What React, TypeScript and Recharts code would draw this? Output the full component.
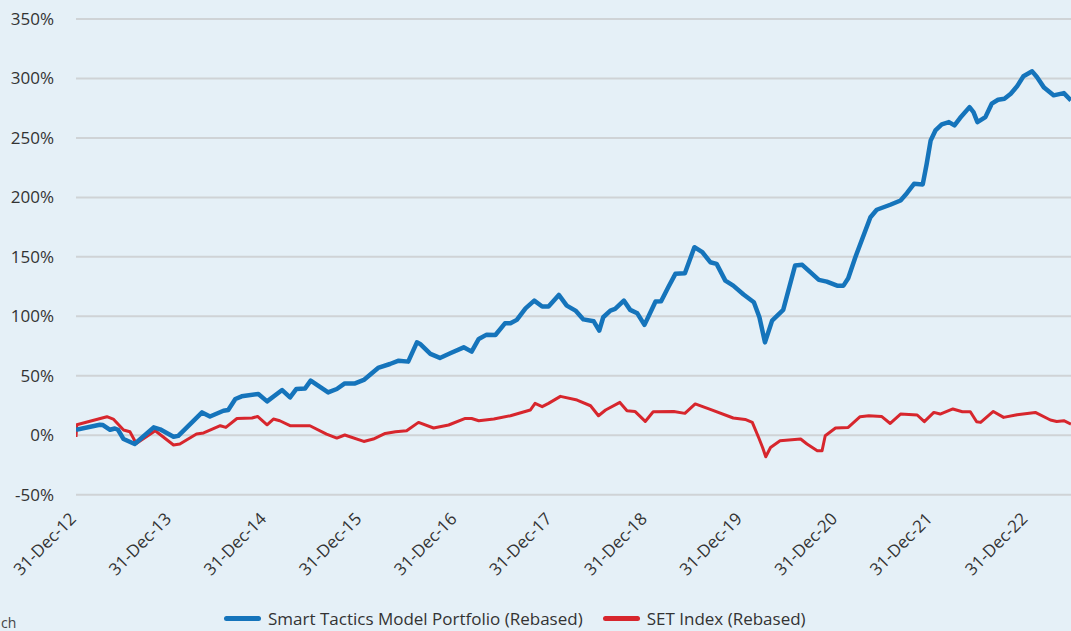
import React from 'react';
import { LineChart, Line, XAxis, YAxis, CartesianGrid } from 'recharts';

// months since 31-Dec-12 and rebased returns (%)
const portfolioMonths = [
  0, 3.0, 3.4, 4.3, 4.9, 5.3, 6.0, 7.4, 9.8, 10.6, 12.3, 12.9, 15.9, 16.9, 18.6, 19.2, 20.1, 20.9, 23.0, 24.1,
  26.0, 27.0, 27.8, 28.9, 29.6, 31.8, 32.9, 33.9, 35.2, 36.3, 38.1, 39.6, 40.7, 41.9, 43.0, 43.4, 44.7, 45.9, 47.2, 48.9,
  49.9, 50.8, 51.8, 52.9, 54.1, 54.8, 55.6, 56.7, 57.8, 58.8, 59.6, 60.9, 61.9, 63.0, 64.0, 65.3, 66.0, 66.5, 67.4, 68.0,
  69.1, 69.9, 70.8, 71.7, 72.4, 73.1, 73.8, 74.7, 75.6, 76.8, 78.0, 79.0, 80.0, 80.8, 81.9, 82.9, 84.2, 85.5, 86.2, 86.9,
  87.8, 89.2, 90.7, 91.6, 93.7, 94.7, 96.0, 96.8, 97.4, 98.3, 100.2, 101.0, 102.7, 104.0, 104.8, 105.7, 106.8, 107.3, 107.8, 108.4,
  109.2, 110.1, 110.8, 111.5, 112.7, 113.2, 113.7, 114.7, 115.5, 116.3, 117.1, 117.9, 118.7, 119.5, 120.6, 121.2, 122.1, 123.3, 124.6, 125.5,
];
const portfolioValues = [
  4.6, 8.8, 8.6, 4.6, 5.7, 4.6, -3.2, -7.4, 6.6, 5, -1.3, -0.5, 19.2, 15.8, 20.6, 21.2, 30.5, 32.7, 34.7, 28.5,
  38, 31.8, 38.9, 39.4, 45.9, 36, 38.9, 43.6, 43.6, 46.5, 56.6, 59.9, 62.7, 61.9, 78.1, 76.8, 68.4, 65, 68.9, 73.9,
  70.3, 81, 84.6, 84.3, 94.1, 94.1, 97, 106.7, 113.2, 108.2, 108.2, 118, 109, 104.8, 97.4, 95.8, 88, 99.2, 104.8, 106.2,
  113.2, 105.4, 102.5, 92.8, 102.5, 112.4, 112.6, 124.4, 135.7, 136.2, 158.1, 153.9, 145.5, 144.1, 130, 125.8, 118.3, 111.8, 99.2, 78.1,
  96.4, 105.4, 142.7, 143.3, 130.6, 129.2, 125.8, 125.8, 132, 149.7, 183.3, 189.6, 193.8, 197.4, 203.5, 211.4, 210.9, 228.3, 247.9, 256.3,
  261.4, 263.3, 260.5, 266.7, 275.9, 271.7, 263.3, 267.5, 278.8, 282.1, 283, 287.2, 293.4, 301.8, 306, 301.2, 292.3, 285.8, 287.7, 281.6,
];

const setMonths = [
  0, 0.1, 3.9, 4.7, 6.0, 6.8, 7.6, 10.0, 12.3, 13.1, 15.2, 16.1, 18.2, 18.9, 20.3, 22.2, 22.9, 24.1, 24.9, 25.7,
  27.0, 29.5, 31.6, 32.9, 33.9, 36.3, 37.5, 39.0, 40.3, 41.7, 43.2, 45.1, 47.0, 49.1, 49.9, 50.8, 52.7, 54.8, 57.3, 57.9,
  58.8, 59.6, 61.1, 63.2, 64.9, 65.9, 66.8, 68.6, 69.5, 70.5, 71.8, 72.8, 75.4, 76.8, 78.1, 80.0, 82.9, 84.4, 85.3, 86.1,
  86.6, 87.0, 87.6, 88.8, 91.4, 92.2, 93.5, 94.1, 94.5, 95.8, 97.4, 98.9, 100.0, 101.6, 102.7, 104.0, 106.1, 107.0, 108.2, 109.0,
  110.6, 111.8, 112.8, 113.6, 114.1, 115.7, 117.0, 118.7, 121.0, 122.9, 123.7, 124.6, 125.5,
];
const setValues = [
  -1.5, 8.8, 15.6, 13.6, 4.4, 2.9, -6.9, 3.8, -8.2, -7.4, 1, 1.9, 8, 6.6, 14.1, 14.5, 15.8, 8.8, 13.6, 12.2,
  8, 8, 1, -2.4, 0.2, -5.2, -3.2, 1.5, 2.9, 3.8, 10.8, 6.1, 8.6, 14.1, 14.1, 12.2, 13.6, 16.4, 21.2, 26.8,
  24, 26.8, 32.7, 29.6, 24.8, 16.4, 21.2, 27.6, 20.6, 20, 11.6, 19.8, 20, 18.4, 26.3, 21.7, 14.5, 13.3, 10.8, -1.9,
  -10.3, -18.1, -10.3, -4.6, -3.2, -7.4, -13, -13, -0.4, 6.1, 6.6, 15.6, 16.4, 15.8, 9.9, 17.8, 17, 11.4, 19.2, 17.8,
  22.1, 19.8, 19.8, 11.4, 10.8, 20, 15, 17.3, 19.2, 12.8, 11.6, 12.2, 9.4,
];

const tickMonths = [0, 12, 24, 36, 48, 60, 72, 84, 96, 108, 120];
const tickLabels = [
  '31-Dec-12', '31-Dec-13', '31-Dec-14', '31-Dec-15', '31-Dec-16', '31-Dec-17',
  '31-Dec-18', '31-Dec-19', '31-Dec-20', '31-Dec-21', '31-Dec-22',
];
const yTicks = [-50, 0, 50, 100, 150, 200, 250, 300, 350];

const seriesNames = ['Smart Tactics Model Portfolio (Rebased)', 'SET Index (Rebased)'];
const BLUE = '#1574bb';
const RED = '#d7262d';
const TEXT = '#333333';
const FONT_SIZE = 17;

const portfolioData = portfolioMonths.map((m, i) => ({ m, v: portfolioValues[i] }));
const setData = setMonths.map((m, i) => ({ m, v: setValues[i] }));

// rotated date labels under the axis
const DateTick = (props: any) => {
  const { x, y, payload } = props;
  const label = tickLabels[tickMonths.indexOf(payload.value)];
  return (
    <g transform={`translate(${x - 3},${y + 21})`}>
      <text textAnchor="end" transform="rotate(-45)" dy="0.35em" fill={TEXT} fontSize={FONT_SIZE}>
        {label}
      </text>
    </g>
  );
};

export default function App() {
  return (
    <div
      style={{
        position: 'absolute', left: 0, top: 0, width: 1071, height: 631, overflow: 'hidden',
        background: '#e5f0f7', fontFamily: "'Open Sans', sans-serif",
      }}
    >
      <LineChart width={1071} height={631} margin={{ top: 19, right: 0, left: 0, bottom: 0 }}>
        <CartesianGrid vertical={false} stroke="#cfd3d6" strokeWidth={2} />
        <XAxis
          type="number" dataKey="m" domain={[0, 125.5]} ticks={tickMonths} allowDataOverflow
          height={136.3} axisLine={false} tickLine={false} tickSize={0} tickMargin={0}
          tick={<DateTick />} interval={0}
        />
        <YAxis
          type="number" domain={[-50, 350]} ticks={yTicks} width={76}
          axisLine={false} tickLine={false} tickSize={0} tickMargin={22}
          tickFormatter={(v) => `${v}%`} tick={{ fill: TEXT, fontSize: FONT_SIZE }}
        />
        <Line data={setData} dataKey="v" type="linear" stroke={RED} strokeWidth={3}
          dot={false} isAnimationActive={false} strokeLinejoin="round" />
        <Line data={portfolioData} dataKey="v" type="linear" stroke={BLUE} strokeWidth={4.5}
          dot={false} isAnimationActive={false} strokeLinejoin="round" />
      </LineChart>

      {/* legend */}
      <div style={{ position: 'absolute', left: 224, top: 607, display: 'flex', alignItems: 'center', fontSize: FONT_SIZE, color: TEXT, whiteSpace: 'nowrap' }}>
        <span style={{ width: 37, height: 5, borderRadius: 3, background: BLUE, marginRight: 7 }} />
        <span>{seriesNames[0]}</span>
        <span style={{ width: 37, height: 5, borderRadius: 3, background: RED, marginLeft: 20, marginRight: 7 }} />
        <span>{seriesNames[1]}</span>
      </div>

      <div style={{ position: 'absolute', left: 1, top: 616, fontSize: 14, lineHeight: 1, color: '#444' }}>ch</div>
    </div>
  );
}
